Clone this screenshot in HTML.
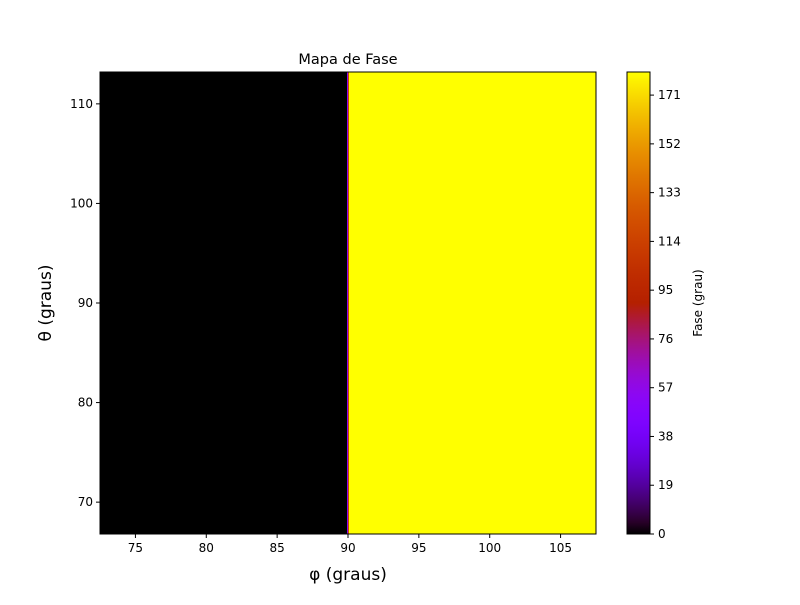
<!DOCTYPE html>
<html><head><meta charset="utf-8"><style>
body{margin:0;background:#fff;}
svg text{font-family:"DejaVu Sans","Liberation Sans",sans-serif;fill:#000;}
</style></head><body>
<svg id="c" width="800" height="600" xmlns="http://www.w3.org/2000/svg">
<defs><linearGradient id="cmap" x1="0" y1="1" x2="0" y2="0" id2="g"></linearGradient></defs>
</svg>
<script>
// data
const phiEdges=[72.5,89.93,90.0,90.07,107.5];
const phaseValues=[0,55,120,180];
const thetaRange=[66.8,113.2];
const xTicks=[75,80,85,90,95,100,105];
const yTicks=[70,80,90,100,110];
const cbTicks=[0,19,38,57,76,95,114,133,152,171];
const vmin=0,vmax=180;

const NS="http://www.w3.org/2000/svg";
const svg=document.getElementById('c');
const L=100,R=596,T=72,B=534;
const xs=v=>L+(v-phiEdges[0])/(phiEdges[phiEdges.length-1]-phiEdges[0])*(R-L);
const ys=v=>B-(v-thetaRange[0])/(thetaRange[1]-thetaRange[0])*(B-T);
const cy=v=>B-(v-vmin)/(vmax-vmin)*(B-T);
function gp(t){const r=Math.sqrt(t),g=t*t*t,b=Math.max(0,Math.sin(2*Math.PI*t));
return `rgb(${Math.round(r*255)},${Math.round(g*255)},${Math.round(b*255)})`;}
function mk(tag,a,txt){const e=document.createElementNS(NS,tag);for(const k in a)e.setAttribute(k,a[k]);if(txt!==undefined)e.textContent=txt;svg.appendChild(e);return e;}

// gradient
const grad=svg.querySelector('#cmap');
for(let i=0;i<=40;i++){const s=document.createElementNS(NS,'stop');s.setAttribute('offset',i/40);s.setAttribute('stop-color',gp(i/40));grad.appendChild(s);}

// heatmap cells
for(let i=0;i<phaseValues.length;i++){
 const x0=xs(phiEdges[i]),x1=xs(phiEdges[i+1]);
 const r=mk('rect',{x:x0,y:ys(thetaRange[1]),width:x1-x0,height:ys(thetaRange[0])-ys(thetaRange[1]),fill:gp((phaseValues[i]-vmin)/(vmax-vmin)),'shape-rendering':'crispEdges'});
 
 
}
const fr=mk('rect',{x:L,y:T,width:R-L,height:B-T,fill:'none',stroke:'#000','stroke-width':1});


xTicks.forEach(v=>{const x=xs(v);
 const l=mk('line',{x1:x,x2:x,y1:B,y2:B+4,stroke:'#000'});
 const t=mk('text',{x:x,y:B+18,'text-anchor':'middle','font-size':12},v);});
yTicks.forEach(v=>{const y=ys(v);
 const l=mk('line',{x1:L-4,x2:L,y1:y,y2:y,stroke:'#000'});
 const t=mk('text',{x:L-7,y:y+4,'text-anchor':'end','font-size':12},v);});

// colorbar
const CL=627,CR=650;
const cb=mk('rect',{x:CL,y:T,width:CR-CL,height:B-T,fill:'url(#cmap)',stroke:'#000'});

cbTicks.forEach(v=>{const y=cy(v);
 const l=mk('line',{x1:CR,x2:CR+4,y1:y,y2:y,stroke:'#000'});
 const t=mk('text',{x:CR+8,y:y+4,'font-size':12},v);});
</script>
<script>
(function(){const s=document.getElementById('c');const NS="http://www.w3.org/2000/svg";
function m(a,txt,name){const e=document.createElementNS(NS,'text');for(const k in a)e.setAttribute(k,a[k]);e.textContent=txt;


s.appendChild(e);}
m({x:348,y:64,'text-anchor':'middle','font-size':14.5},'Mapa de Fase','chart-title');
m({x:348,y:580,'text-anchor':'middle','font-size':17},'φ (graus)','x-axis-title');
m({x:0,y:0,'text-anchor':'middle','font-size':17,transform:'translate(51,303) rotate(-90)'},'θ (graus)','y-axis-title');
m({x:0,y:0,'text-anchor':'middle','font-size':12,transform:'translate(702,303) rotate(-90)'},'Fase (grau)','colorbar-title');
})();
</script>
</body></html>
